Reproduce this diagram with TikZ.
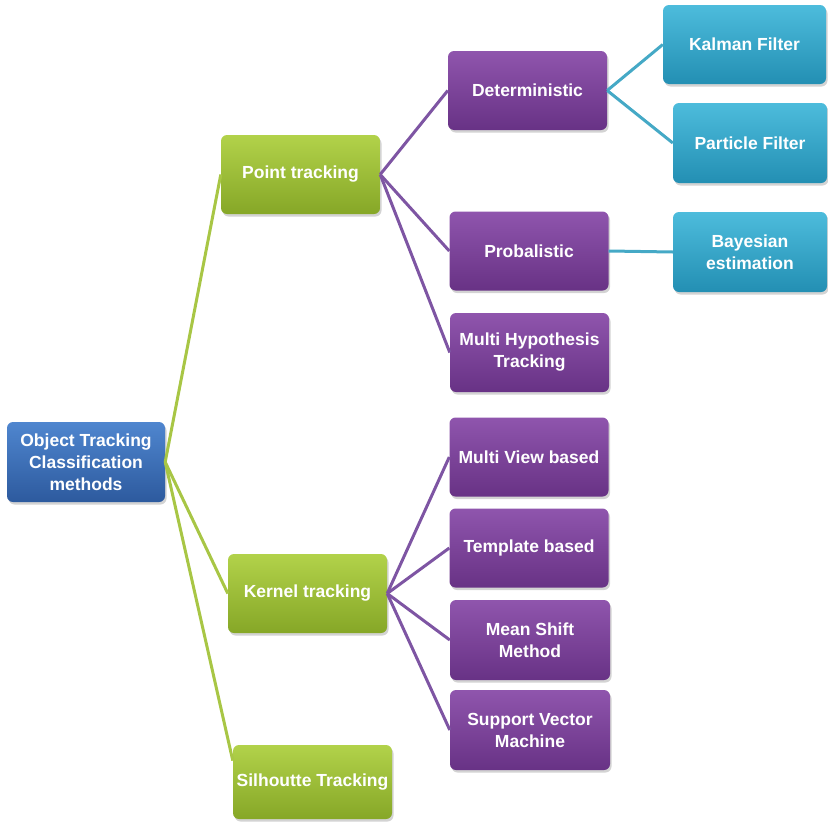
\documentclass[tikz,border=0pt]{standalone}
\usepackage{fontspec}
\setmainfont{Liberation Sans}
\usetikzlibrary{shadows}
\definecolor{rootA}{HTML}{4F86CF}
\definecolor{rootB}{HTML}{3A6EB8}
\definecolor{rootC}{HTML}{2D5A9E}
\definecolor{grnA}{HTML}{B2D24A}
\definecolor{grnB}{HTML}{9CC030}
\definecolor{grnC}{HTML}{86A727}
\definecolor{purA}{HTML}{8F55AD}
\definecolor{purB}{HTML}{7B409B}
\definecolor{purC}{HTML}{683285}
\definecolor{cyaA}{HTML}{4DBCDC}
\definecolor{cyaB}{HTML}{2EA7CA}
\definecolor{cyaC}{HTML}{238FB3}
\definecolor{lnGreen}{HTML}{A8C645}
\definecolor{lnPurple}{HTML}{7E55A3}
\definecolor{lnCyan}{HTML}{45A9C6}
\tikzset{
  box/.style={rounded corners=6pt, inner sep=1pt, align=center, text=white,
    font=\fontsize{17.5}{22}\selectfont\bfseries,
    drop shadow={shadow xshift=1.5pt, shadow yshift=-2.5pt, opacity=0.35}},
  rootbox/.style={box, top color=rootA, middle color=rootB, bottom color=rootC},
  greenbox/.style={box, top color=grnA, middle color=grnB, bottom color=grnC},
  purplebox/.style={box, top color=purA, middle color=purB, bottom color=purC},
  cyanbox/.style={box, top color=cyaA, middle color=cyaB, bottom color=cyaC},
  wide/.style={minimum width=159pt, minimum height=79pt},
  link/.style={line width=3pt},
  glink/.style={link, draw=lnGreen},
  plink/.style={link, draw=lnPurple},
  clink/.style={link, draw=lnCyan}
}
\begin{document}
\begin{tikzpicture}[x=1pt, y=-1pt]
\useasboundingbox (0,0) rectangle (828,822);

% root
\node[rootbox, minimum width=158pt, minimum height=80pt] (root) at (86,462)
  {Object Tracking\\Classification\\methods};

% second level
\node[greenbox, wide] (point)  at (300.5,174.5) {Point tracking};
\node[greenbox, wide] (kernel) at (307.5,593.5) {Kernel tracking};
\node[greenbox, minimum width=159pt, minimum height=74pt] (silh) at (312.5,782) {Silhoutte Tracking};

% third level
\node[purplebox, wide] (determ) at (527.5,90.5) {Deterministic};
\node[purplebox, wide] (prob)   at (529,251)    {Probalistic};
\node[purplebox, wide] (mht)    at (529.5,352.5){Multi Hypothesis\\Tracking};
\node[purplebox, wide] (mview)  at (529,457)    {Multi View based};
\node[purplebox, wide] (templ)  at (529,548)    {Template based};
\node[purplebox, minimum width=160pt, minimum height=80pt] (mean) at (530,640) {Mean Shift\\Method};
\node[purplebox, minimum width=160pt, minimum height=80pt] (svm)  at (530,730) {Support Vector\\Machine};

% fourth level
\node[cyanbox, minimum width=163pt, minimum height=79pt] (kalman)   at (744.5,44.5) {Kalman Filter};
\node[cyanbox, minimum width=154pt, minimum height=80pt] (particle) at (750,143)    {Particle Filter};
\node[cyanbox, minimum width=154pt, minimum height=80pt] (bayes)    at (750,252)    {Bayesian\\estimation};

% connectors
\draw[glink] (root.east) -- (point.west);
\draw[glink] (root.east) -- (kernel.west);
\draw[glink] (root.east) -- (silh.165);

\draw[plink] (point.east) -- (determ.west);
\draw[plink] (point.east) -- (prob.west);
\draw[plink] (point.east) -- (mht.west);

\draw[plink] (kernel.east) -- (mview.west);
\draw[plink] (kernel.east) -- (templ.west);
\draw[plink] (kernel.east) -- (mean.west);
\draw[plink] (kernel.east) -- (svm.west);

\draw[clink] (determ.east) -- (kalman.west);
\draw[clink] (determ.east) -- (particle.west);
\draw[clink] (prob.east) -- (bayes.west);
\end{tikzpicture}
\end{document}
